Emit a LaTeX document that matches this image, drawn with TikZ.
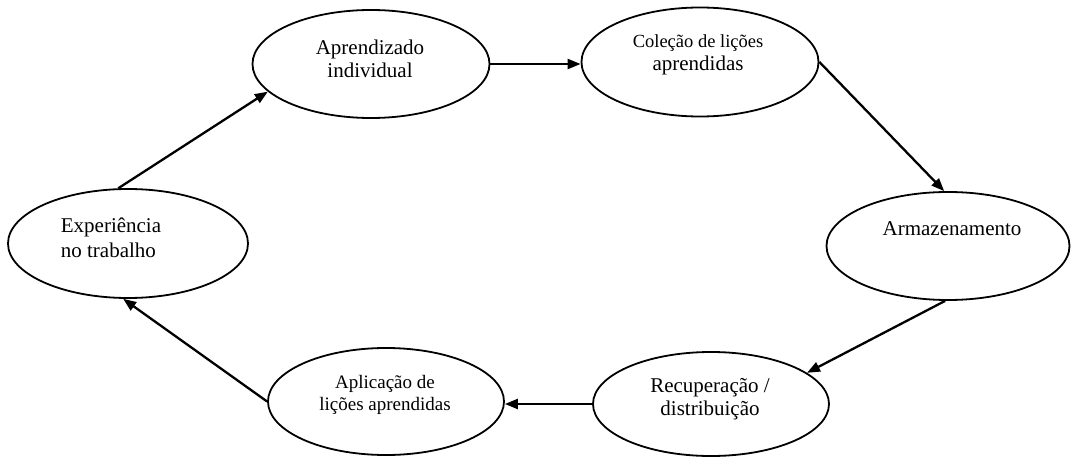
\documentclass[tikz,border=0pt]{standalone}
\usepackage{fontspec}
\setmainfont{Liberation Serif}
\usetikzlibrary{arrows.meta,shapes.geometric}
\begin{document}
\begin{tikzpicture}[x=1pt,y=-1pt,
  bubble/.style={draw=black,line width=1.8pt,ellipse,inner sep=0pt},
  lbl/.style={align=center,inner sep=0pt,font=\fontsize{21}{23.5}\selectfont},
  small/.style={align=center,inner sep=0pt,font=\fontsize{19}{22}\selectfont},
  flow/.style={line width=2.3pt,-{Triangle[length=13pt,width=10pt]}}]
\useasboundingbox (0,0) rectangle (1073,457);
\node[bubble,minimum width=240pt,minimum height=109pt] (e1) at (128,243.5) {};
\node[bubble,minimum width=237pt,minimum height=108pt] (e2) at (371,64) {};
\node[bubble,minimum width=237pt,minimum height=109pt] (e3) at (700,62) {};
\node[bubble,minimum width=243pt,minimum height=108pt] (e4) at (948,246) {};
\node[bubble,minimum width=236pt,minimum height=104pt] (e5) at (711,404) {};
\node[bubble,minimum width=236pt,minimum height=107pt] (e6) at (386,401.5) {};
\node[lbl,align=left,font=\fontsize{21}{25}\selectfont] (t1) at (111,238) {Experiência\\no trabalho};
\node[lbl] (t2) at (370,59) {Aprendizado\\individual};
\node[lbl] (t3) at (698,55) {{\fontsize{18.5}{22}\selectfont Coleção de lições}\\aprendidas};
\node[lbl] (t4) at (952,229) {Armazenamento};
\node[lbl] (t5) at (710,399) {Recuperação /\\distribuição};
\node[small] (t6) at (385,395) {Aplicação de\\lições aprendidas};
\draw[flow] (e1.100) -- (e2.195);
\draw[flow] (e2.east) -- (e2.east -| e3.west);
\draw[flow] (e3.east) -- (e4.94);
\draw[flow] (e4.267) -- (e5.18);
\draw[flow] (e5.west) -- (e5.west -| e6.east);
\draw[flow] (e6.west) -- (e1.265);
\end{tikzpicture}
\end{document}
